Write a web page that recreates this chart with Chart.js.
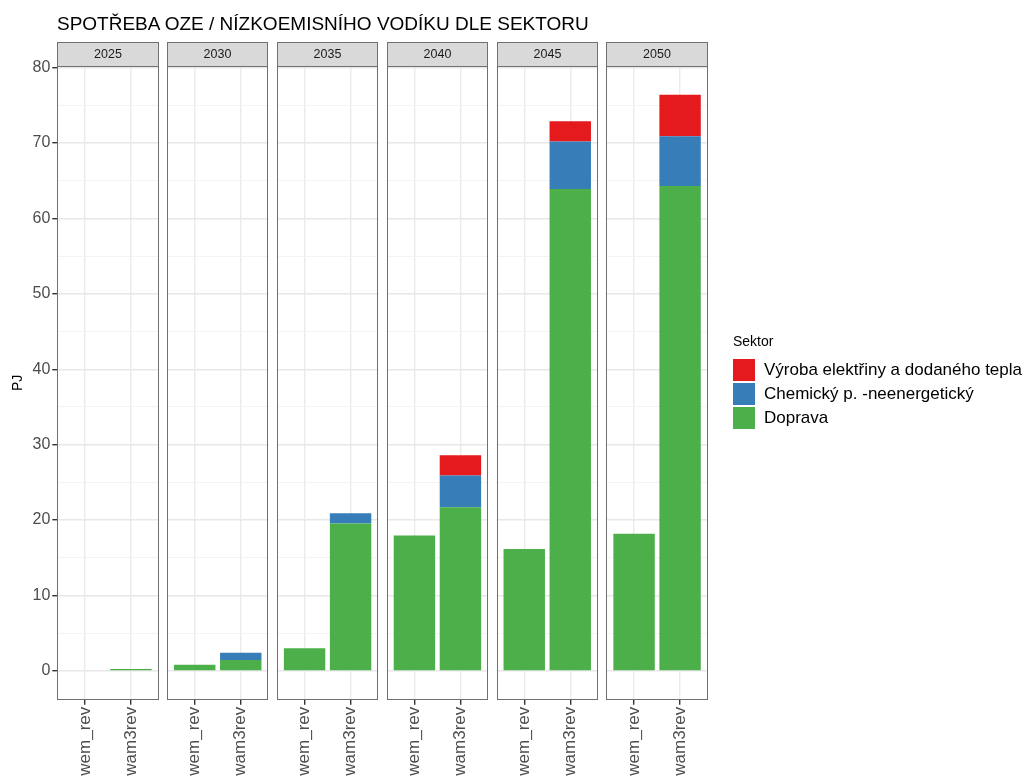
<!DOCTYPE html>
<html>
<head>
<meta charset="utf-8">
<script src="https://cdn.jsdelivr.net/npm/chart.js@4.4.1/dist/chart.umd.min.js"></script>
<style>
  body { margin: 0; background: #fff; font-family: "Liberation Sans", Arial, sans-serif; }
  #obal { position: relative; width: 1029px; height: 776px; overflow: hidden; }
  #graf { position: absolute; left: 0; top: 0; }
  #titulek { position: absolute; left: 57px; top: 14px; font-size: 19px; line-height: 19px; color: #000; white-space: nowrap; }
  #legenda { position: absolute; left: 733px; top: 332px; color: #000; }
  #legenda .nadpis { font-size: 14px; line-height: 18px; margin-bottom: 8px; }
  #legenda .polozka { display: flex; align-items: center; height: 24px; white-space: nowrap; }
  #legenda .ctverec { width: 22px; height: 22px; margin-right: 9px; }
  #legenda .text { font-size: 17px; }
</style>
</head>
<body>
<div id="obal">
  <canvas id="graf" width="1029" height="776"></canvas>
  <div id="titulek">SPOTŘEBA OZE / NÍZKOEMISNÍHO VODÍKU DLE SEKTORU</div>
  <div id="legenda"></div>
</div>
<script>
const roky = ["2025", "2030", "2035", "2040", "2045", "2050"];
const scenare = ["wem_rev", "wam3rev"];

// hodnoty po rocich: [wem_rev, wam3rev] v PJ
const doprava = [[0, 0.25], [0.8, 1.45], [3.0, 19.55], [17.95, 21.7], [16.15, 63.9], [18.2, 64.3]];
const chemicky = [[0, 0], [0, 0.95], [0, 1.35], [0, 4.2], [0, 6.3], [0, 6.6]];
const vyroba = [[0, 0], [0, 0], [0, 0], [0, 2.7], [0, 2.7], [0, 5.5]];

const sektory = ["Výroba elektřiny a dodaného tepla", "Chemický p. -neenergetický", "Doprava"];
const barvy = ["#E41A1C", "#377EB8", "#4DAF4A"];

const font = "'Liberation Sans', Arial, sans-serif";
const P = 2.2 + 0.187; // sirka panelu + mezera (v jednotkach osy x)

// prevod hodnot na body {x, y} - kazdy rok ma svuj panel
function body(hodnoty) {
  const out = [];
  hodnoty.forEach((par, i) => {
    par.forEach((v, j) => out.push({ x: i * P + j, y: v }));
  });
  return out;
}

const poziceTicku = [];
roky.forEach((r, i) => scenare.forEach((s, j) => poziceTicku.push(i * P + j)));

// panely, proužky s roky a mezery mezi panely
const panely = {
  id: "panely",
  beforeDatasetsDraw(chart) {
    const { ctx, chartArea: a, scales: { x } } = chart;
    ctx.save();
    ctx.fillStyle = "#fff";
    for (let i = 0; i < roky.length - 1; i++) {
      const r = x.getPixelForValue(i * P + 1.6);
      const l = x.getPixelForValue((i + 1) * P - 0.6);
      ctx.fillRect(r, a.top - 1, l - r, a.bottom - a.top + 2);
    }
    ctx.restore();
  },
  afterDraw(chart) {
    const { ctx, chartArea: a, scales: { x } } = chart;
    ctx.save();
    ctx.lineWidth = 1;
    roky.forEach((rok, i) => {
      const l = Math.round(x.getPixelForValue(i * P - 0.6)) + 0.5;
      const r = Math.round(x.getPixelForValue(i * P + 1.6)) - 0.5;
      const t = Math.round(a.top) + 0.5;
      const b = Math.round(a.bottom) - 0.5;
      ctx.strokeStyle = "#707070";
      ctx.strokeRect(l, t, r - l, b - t);
      // proužek
      ctx.fillStyle = "#d9d9d9";
      ctx.fillRect(l, t - 24, r - l, 24);
      ctx.strokeRect(l, t - 24, r - l, 24);
      ctx.fillStyle = "#1a1a1a";
      ctx.font = "12.5px " + font;
      ctx.textAlign = "center";
      ctx.textBaseline = "middle";
      ctx.fillText(rok, (l + r) / 2, t - 11.5);
    });
    ctx.restore();
  }
};

new Chart(document.getElementById("graf"), {
  type: "bar",
  data: {
    datasets: [
      { label: sektory[2], data: body(doprava), backgroundColor: barvy[2] },
      { label: sektory[1], data: body(chemicky), backgroundColor: barvy[1] },
      { label: sektory[0], data: body(vyroba), backgroundColor: barvy[0] }
    ]
  },
  options: {
    responsive: false,
    animation: false,
    layout: { padding: { left: 0, top: 66, right: 321.3, bottom: 0 } },
    datasets: { bar: { categoryPercentage: 1, barPercentage: 0.9, borderWidth: 0 } },
    plugins: { legend: { display: false }, tooltip: { enabled: false } },
    scales: {
      x: {
        type: "linear",
        stacked: true,
        offset: false,
        min: -0.6,
        max: 5 * P + 1.6,
        afterBuildTicks: (s) => { s.ticks = poziceTicku.map((v) => ({ value: v })); },
        afterFit: (s) => { s.height = 776 - 699.7; },
        border: { display: false },
        grid: { offset: false, color: "#ebebeb", lineWidth: 1.4, tickLength: 5, tickColor: "#333" },
        ticks: {
          autoSkip: false,
          minRotation: 90,
          maxRotation: 90,
          padding: 2,
          color: "#4d4d4d",
          font: { family: font, size: 17 },
          callback: (v, i) => scenare[i % 2]
        }
      },
      y: {
        stacked: true,
        min: -3.82,
        max: 80.22,
        afterBuildTicks: (s) => {
          const t = [];
          for (let v = 0; v <= 80; v += 5) t.push({ value: v });
          s.ticks = t;
        },
        afterFit: (s) => { s.width = 57.3; },
        border: { display: false },
        grid: {
          color: (c) => (c.tick && c.tick.value % 10 === 0 ? "#e8e8e8" : "#f2f2f2"),
          lineWidth: (c) => (c.tick && c.tick.value % 10 === 0 ? 1.4 : 0.9),
          tickLength: 5,
          tickColor: (c) => (c.tick && c.tick.value % 10 === 0 ? "#333" : "rgba(0,0,0,0)")
        },
        ticks: {
          autoSkip: false,
          padding: 2,
          color: "#4d4d4d",
          font: { family: font, size: 16 },
          callback: (v) => (v % 10 === 0 ? v : "")
        },
        title: { display: true, text: "PJ", color: "#000", font: { family: font, size: 14 }, padding: { top: 10, bottom: 0 } }
      }
    }
  },
  plugins: [panely]
});

// legenda
const legenda = document.getElementById("legenda");
legenda.innerHTML = '<div class="nadpis">Sektor</div>';
sektory.forEach((s, i) => {
  const div = document.createElement("div");
  div.className = "polozka";
  div.innerHTML = '<span class="ctverec" style="background:' + barvy[i] + '"></span><span class="text">' + s + "</span>";
  legenda.appendChild(div);
});
</script>
</body>
</html>
